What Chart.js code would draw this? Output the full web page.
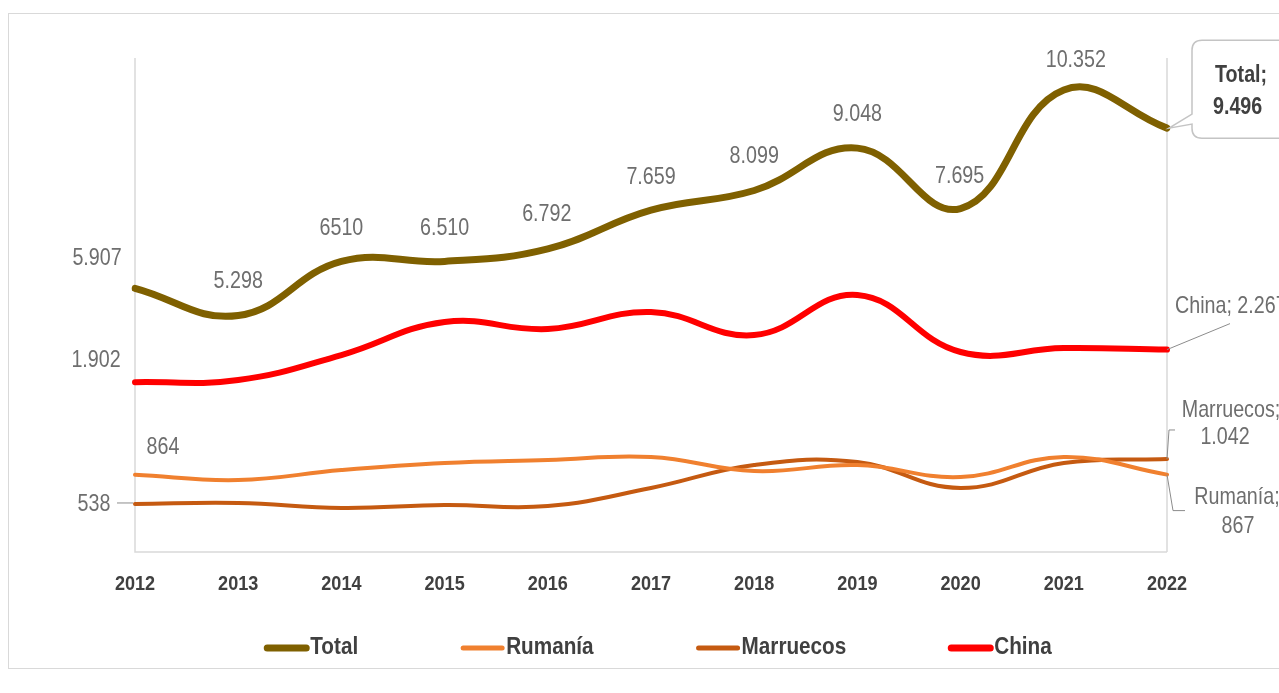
<!DOCTYPE html>
<html>
<head>
<meta charset="utf-8">
<script src="https://cdn.jsdelivr.net/npm/chart.js@4.4.1/dist/chart.umd.min.js"></script>
<style>
  html, body { margin: 0; padding: 0; background: #fff; overflow: hidden; }
  #frame { position: absolute; left: 8px; top: 13px; width: 1300px; height: 656px; border: 1px solid #d9d9d9; box-sizing: border-box; }
  #wrap { position: absolute; left: 0; top: 0; width: 1279px; height: 693px; }
</style>
</head>
<body>
<div id="frame"></div>
<div id="wrap"><canvas id="chart"></canvas></div>
<script>
const years = ['2012', '2013', '2014', '2015', '2016', '2017', '2018', '2019', '2020', '2021', '2022'];
const total = [5907, 5298, 6510, 6510, 6792, 7659, 8099, 9048, 7695, 10352, 9496];
const rumania = [864, 806, 918, 997, 1030, 1064, 907, 974, 840, 1064, 867];
const marruecos = [538, 549, 493, 526, 515, 717, 974, 1008, 717, 997, 1042];
const china = [1902, 1926, 2206, 2576, 2497, 2688, 2430, 2878, 2240, 2284, 2267];
const totalLabels = ['5.907', '5.298', '6510', '6.510', '6.792', '7.659', '8.099', '9.048', '7.695', '10.352'];

const FONT = "'Liberation Sans', Arial, sans-serif";
const SX = 0.82; // squeeze text horizontally, the original uses a narrow face

// label offsets from the point, in px
const totalLabelDx = [-38, 0, 0, 0, -1, 0, 0, 0, -1, 12];
const totalLabelDy = [-30, -34, -33, -33, -34, -33, -34, -34, -32, -30];

function text(ctx, s, x, y, align, sx) {
  ctx.save();
  ctx.translate(x, y);
  ctx.scale(sx || SX, 1);
  ctx.textAlign = align || 'center';
  ctx.fillText(s, 0, 0);
  ctx.restore();
}

// axis lines, data labels, leader lines, callout and the legend
const labelPlugin = {
  id: 'labelPlugin',
  beforeDatasetsDraw(chart) {
    const { ctx, chartArea: a } = chart;
    ctx.save();
    ctx.strokeStyle = '#d9d9d9';
    ctx.lineWidth = 1.5;
    ctx.beginPath();
    ctx.moveTo(a.left, a.top - 3); ctx.lineTo(a.left, a.bottom);
    ctx.lineTo(a.right, a.bottom);
    ctx.moveTo(a.right, a.top - 3); ctx.lineTo(a.right, a.bottom);
    ctx.stroke();
    ctx.restore();
  },
  afterDatasetsDraw(chart) {
    const ctx = chart.ctx;
    const xs = chart.scales.x;
    const pts = i => chart.getDatasetMeta(i).data;
    const tot = pts(0), rum = pts(1), mar = pts(2), chi = pts(3);
    const last = years.length - 1;

    ctx.save();
    ctx.textBaseline = 'middle';

    // category labels
    ctx.font = 'bold 21px ' + FONT;
    ctx.fillStyle = '#404040';
    years.forEach((y, i) => text(ctx, y, xs.getPixelForValue(i), chart.chartArea.bottom + 32, 'center', 0.86));

    ctx.font = '24px ' + FONT;
    ctx.fillStyle = '#6e6e6e';
    totalLabels.forEach((t, i) => {
      text(ctx, t, tot[i].x + totalLabelDx[i], tot[i].y + totalLabelDy[i]);
    });

    // first-year labels of the other series
    text(ctx, '1.902', chi[0].x - 39, chi[0].y - 22);
    text(ctx, '864', rum[0].x + 28, rum[0].y - 27);
    text(ctx, '538', mar[0].x - 41, mar[0].y);

    ctx.strokeStyle = '#8c8c8c';
    ctx.lineWidth = 1;
    ctx.beginPath();
    ctx.moveTo(mar[0].x - 18, mar[0].y - 1);
    ctx.lineTo(mar[0].x - 2, mar[0].y - 1);
    ctx.stroke();

    // right side labels
    const c = chi[last];
    ctx.beginPath();
    ctx.moveTo(c.x, c.y);
    ctx.lineTo(c.x + 63, c.y - 26);
    ctx.stroke();
    text(ctx, 'China; 2.267', c.x + 8, c.y - 43, 'left');

    const m = mar[last];
    ctx.beginPath();
    ctx.moveTo(m.x, m.y);
    ctx.lineTo(m.x + 2, m.y - 29);
    ctx.lineTo(m.x + 8, m.y - 29);
    ctx.stroke();
    text(ctx, 'Marruecos;', m.x + 64, m.y - 49);
    text(ctx, '1.042', m.x + 58, m.y - 22);

    const r = rum[last];
    ctx.beginPath();
    ctx.moveTo(r.x, r.y);
    ctx.lineTo(r.x + 6, r.y + 36);
    ctx.lineTo(r.x + 18, r.y + 36);
    ctx.stroke();
    text(ctx, 'Rumanía;', r.x + 70, r.y + 23);
    text(ctx, '867', r.x + 71, r.y + 52);

    // Total callout
    const p = tot[last];
    const bx = p.x + 25, by = p.y - 88, bb = p.y + 10, br = 10;
    ctx.strokeStyle = '#c4c4c4';
    ctx.lineWidth = 1.5;
    ctx.fillStyle = '#fff';
    ctx.beginPath();
    ctx.moveTo(1300, by);
    ctx.lineTo(bx + br, by);
    ctx.quadraticCurveTo(bx, by, bx, by + br);
    ctx.lineTo(bx, p.y - 14);
    ctx.lineTo(p.x + 2, p.y);
    ctx.lineTo(bx, p.y - 4);
    ctx.lineTo(bx, bb - br);
    ctx.quadraticCurveTo(bx, bb, bx + br, bb);
    ctx.lineTo(1300, bb);
    ctx.fill();
    ctx.stroke();
    ctx.fillStyle = '#404040';
    ctx.font = 'bold 24px ' + FONT;
    text(ctx, 'Total;', p.x + 48, p.y - 53, 'left');
    text(ctx, '9.496', p.x + 46, p.y - 21, 'left');

    // legend
    const LSX = 0.9;
    ctx.font = 'bold 23px ' + FONT;
    const items = chart.data.datasets.map(ds => ({
      ds, w: 46 + ctx.measureText(ds.label).width * LSX
    }));
    const gap = 102;
    const full = items.reduce((s, it) => s + it.w, 0) + gap * (items.length - 1);
    let x = 658 - full / 2;
    const ly = 648;
    items.forEach(it => {
      ctx.strokeStyle = it.ds.borderColor;
      ctx.lineWidth = it.ds.legendWidth;
      ctx.lineCap = 'round';
      ctx.beginPath();
      ctx.moveTo(x + 3, ly);
      ctx.lineTo(x + 42, ly);
      ctx.stroke();
      ctx.fillStyle = '#404040';
      text(ctx, it.ds.label, x + 46, ly, 'left', LSX);
      x += it.w + gap;
    });
    ctx.restore();
  }
};

new Chart(document.getElementById('chart'), {
  type: 'line',
  data: {
    labels: years,
    datasets: [
      { label: 'Total', data: total, yAxisID: 'y', borderColor: '#7f6000', borderWidth: 7, legendWidth: 7 },
      { label: 'Rumanía', data: rumania, yAxisID: 'y1', borderColor: '#f0802f', borderWidth: 4, legendWidth: 5 },
      { label: 'Marruecos', data: marruecos, yAxisID: 'y1', borderColor: '#c55a11', borderWidth: 4, legendWidth: 5 },
      { label: 'China', data: china, yAxisID: 'y1', borderColor: '#ff0000', borderWidth: 6, legendWidth: 7 }
    ]
  },
  options: {
    responsive: true,
    maintainAspectRatio: false,
    animation: false,
    layout: { padding: { left: 135, right: 112, top: 61, bottom: 141 } },
    elements: {
      line: { tension: 0.42, borderCapStyle: 'round', fill: false },
      point: { radius: 0, hoverRadius: 0 }
    },
    plugins: { legend: { display: false }, tooltip: { enabled: false } },
    scales: {
      x: { display: false },
      y: { display: false, min: 0, max: 11000 },
      y1: { display: false, min: 0, max: 5500 }
    }
  },
  plugins: [labelPlugin]
});
</script>
</body>
</html>
